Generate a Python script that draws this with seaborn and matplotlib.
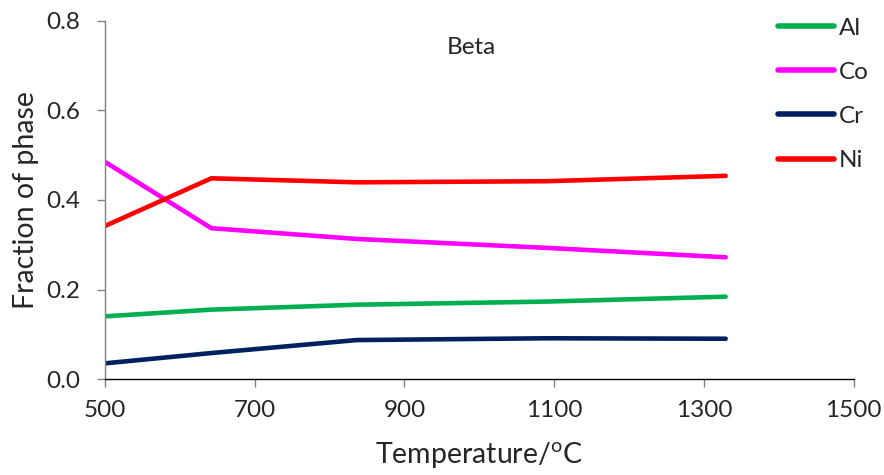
import matplotlib
matplotlib.use("Agg")
import matplotlib.pyplot as plt
import seaborn as sns
import pandas as pd

temperature = [500, 642, 836, 1090, 1329]
al = [0.140, 0.155, 0.166, 0.173, 0.184]
co = [0.485, 0.337, 0.313, 0.293, 0.272]
cr = [0.035, 0.058, 0.087, 0.091, 0.090]
ni = [0.342, 0.4485, 0.4395, 0.442, 0.454]
elements = ["Al", "Co", "Cr", "Ni"]
colors = ["#00B050", "#FF00FF", "#002060", "#FF0000"]
x_ticks = [500, 700, 900, 1100, 1300, 1500]
y_ticks = [0.0, 0.2, 0.4, 0.6, 0.8]

sns.set_theme(style="white")
plt.rcParams["font.family"] = ["Lato", "DejaVu Sans"]
plt.rcParams["mathtext.fontset"] = "custom"
plt.rcParams["mathtext.rm"] = "Lato"

rows = []
for name, vals in zip(elements, [al, co, cr, ni]):
    for t, v in zip(temperature, vals):
        rows.append({"T": t, "frac": v, "el": name})
df = pd.DataFrame(rows)

fig = plt.figure(figsize=(8.84, 4.75), dpi=100)
ax = fig.add_axes([0.1188, 0.2021, 0.8469, 0.7537])
sns.lineplot(data=df, x="T", y="frac", hue="el", hue_order=elements,
             palette=colors, linewidth=3.3, ax=ax, legend=True)

ax.set_xlim(500, 1500)
ax.set_ylim(0, 0.8)
ax.set_xticks(x_ticks)
ax.set_yticks(y_ticks)
ax.set_yticklabels([f"{v:.1f}" for v in y_ticks])
ax.tick_params(axis="both", labelsize=17.5, length=6, width=1, color="#808080",
               direction="out", bottom=True, left=True)
ax.tick_params(axis="y", pad=12)
ax.tick_params(axis="x", pad=9)
for s in ["top", "right"]:
    ax.spines[s].set_visible(False)
ax.spines["left"].set_color("#808080")
ax.spines["bottom"].set_color("#000000")
for s in ["left", "bottom"]:
    ax.spines[s].set_linewidth(1)

ax.set_xlabel("Temperature/$^{\\mathrm{o}}$C", fontsize=20.5, labelpad=14)
ax.set_ylabel("Fraction of phase", fontsize=20.5, labelpad=5)
ax.text(989, 0.74, "Beta", fontsize=17.5, ha="center", va="center")

handles, labels = ax.get_legend_handles_labels()
for h in handles:
    h.set_linewidth(4)
ax.legend(handles, labels, loc="upper left", bbox_to_anchor=(768 / 884, 1 - 8 / 475),
          bbox_transform=fig.transFigure, frameon=False, fontsize=17.5,
          handlelength=2.3, handletextpad=0.2, labelspacing=0.95, borderaxespad=0)

fig.savefig("out.png", dpi=100)
